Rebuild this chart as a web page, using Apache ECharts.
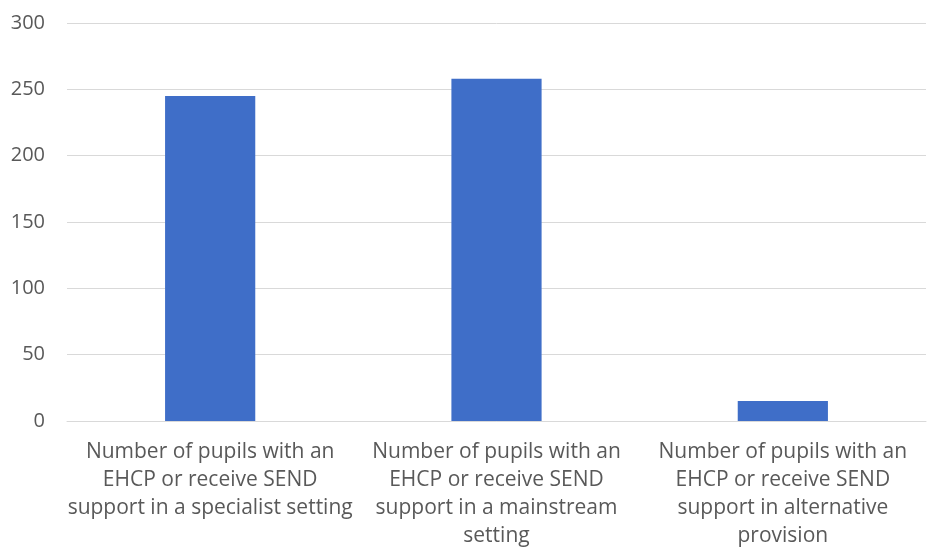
<!DOCTYPE html>
<html>
<head>
<meta charset="utf-8">
<script src="https://cdn.jsdelivr.net/npm/echarts@6/dist/echarts.min.js"></script>
<style>html,body{margin:0;padding:0;background:#fff}#c{width:933px;height:556px}</style>
</head>
<body>
<div id="c"></div>
<script>
const categories = [
  "Number of pupils with an\nEHCP or receive SEND\nsupport in a specialist setting",
  "Number of pupils with an\nEHCP or receive SEND\nsupport in a mainstream\nsetting",
  "Number of pupils with an\nEHCP or receive SEND\nsupport in alternative\nprovision"
];
const values = [245, 258, 15];
const yMin = 0, yMax = 300, yInterval = 50;

const FONT = '"Open Sans", sans-serif';
const chart = echarts.init(document.getElementById('c'), null, {renderer: 'canvas'});
chart.setOption({
  animation: false,
  grid: {left: 67, right: 7, top: 23, bottom: 135, containLabel: false},
  xAxis: {
    type: 'category',
    data: categories,
    axisLine: {lineStyle: {color: '#d9d9d9', width: 1}},
    axisTick: {show: false},
    axisLabel: {color: '#595959', fontFamily: FONT, fontSize: 21, lineHeight: 28, margin: 17, interval: 0}
  },
  yAxis: {
    type: 'value',
    min: yMin, max: yMax, interval: yInterval,
    axisLine: {show: false},
    axisTick: {show: false},
    splitLine: {lineStyle: {color: '#d9d9d9', width: 1}},
    axisLabel: {color: '#595959', fontFamily: FONT, fontSize: 20, margin: 22}
  },
  series: [{
    type: 'bar',
    data: values,
    barWidth: '31.5%',
    itemStyle: {color: '#3f6ec8'}
  }]
});
</script>
</body>
</html>
